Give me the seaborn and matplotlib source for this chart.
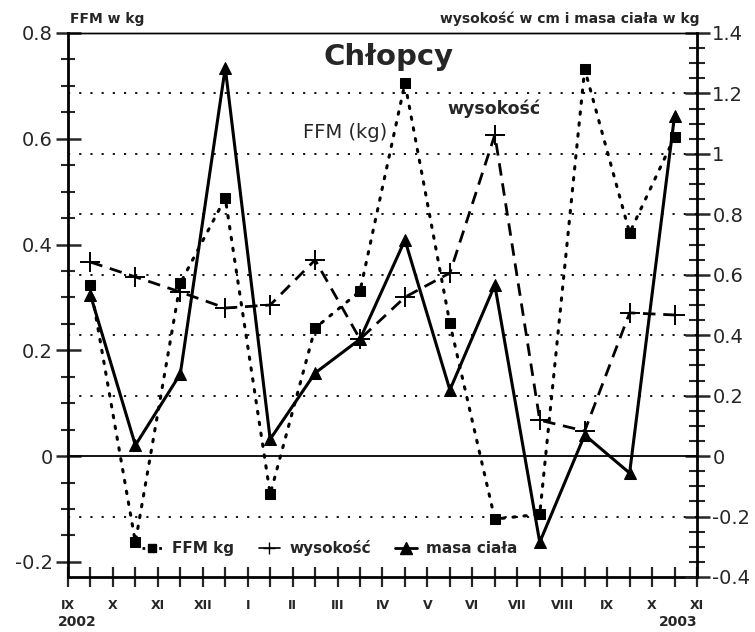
import numpy as np
import pandas as pd
import matplotlib
matplotlib.use("Agg")
import matplotlib.pyplot as plt
from matplotlib.lines import Line2D
from matplotlib.ticker import MultipleLocator, FixedLocator
import seaborn as sns

# ---------------- data ----------------
pomiar = [0.5, 1.5, 2.5, 3.5, 4.5, 5.5, 6.5, 7.5, 8.5, 9.5, 10.5, 11.5, 12.5, 13.5]
ffm_kg = [0.323, -0.163, 0.327, 0.488, -0.072, 0.242, 0.312, 0.705, 0.251,
          -0.119, -0.110, 0.732, 0.422, 0.603]
wysokosc_cm = [0.642, 0.593, 0.543, 0.490, 0.500, 0.649, 0.387, 0.526, 0.606,
               1.063, 0.119, 0.083, 0.474, 0.467]
masa_kg = [0.533, 0.036, 0.272, 1.285, 0.056, 0.275, 0.387, 0.715, 0.219,
           0.566, -0.285, 0.070, -0.056, 1.126]
miesiace = ["IX", "X", "XI", "XII", "I", "II", "III", "IV", "V", "VI", "VII",
            "VIII", "IX", "X", "XI"]
lewe_ticki = [-0.2, 0.0, 0.2, 0.4, 0.6, 0.8]
lewe_etykiety = ["-0.2", "0", "0.2", "0.4", "0.6", "0.8"]
prawe_ticki = [-0.4, -0.2, 0.0, 0.2, 0.4, 0.6, 0.8, 1.0, 1.2, 1.4]
prawe_etykiety = ["-0.4", "-0.2", "0", "0.2", "0.4", "0.6", "0.8", "1", "1.2", "1.4"]

df = pd.DataFrame({"pomiar": pomiar, "ffm": ffm_kg,
                   "wys": wysokosc_cm, "masa": masa_kg})

# ---------------- style ----------------
sns.set_style("ticks")
plt.rcParams["font.family"] = ["DejaVu Sans"]

W, H = 755, 632
fig = plt.figure(figsize=(W / 100, H / 100), dpi=100)
L, R, T, B = 68, 697, 33, 577
ax = fig.add_axes([L / W, 1 - B / H, (R - L) / W, (B - T) / H])
ax2 = ax.twinx()

ax.set_xlim(0, 14)
ax.set_ylim(-0.4 * 0.8 / 1.4, 0.8)
ax2.set_ylim(-0.4, 1.4)

# grid lines (dotted) at right-axis major ticks
for v in prawe_ticki[1:-1]:
    if v == 0:
        ax2.axhline(0, color="black", lw=1.3, zorder=1)
    else:
        ax2.axhline(v, color="black", lw=1.3, ls=(0, (1.2, 5)), zorder=1)

# ---------------- series ----------------
sns.lineplot(data=df, x="pomiar", y="ffm", ax=ax, color="black",
             linestyle=(0, (0.8, 2.8)), linewidth=2.2, dash_capstyle="round",
             marker="s", markersize=7.5, markeredgecolor="black", zorder=3)
sns.lineplot(data=df, x="pomiar", y="wys", ax=ax2, color="black",
             linestyle=(0, (4.5, 2.8)), linewidth=2.0,
             marker="+", markersize=15, markeredgewidth=1.4,
             markeredgecolor="black", zorder=3)
sns.lineplot(data=df, x="pomiar", y="masa", ax=ax2, color="black",
             linestyle="-", linewidth=2.2,
             marker="^", markersize=9, markeredgecolor="black", zorder=4)

ax.set_xlabel("")
ax.set_ylabel("")
ax2.set_ylabel("")

# ---------------- spines & ticks ----------------
for a in (ax, ax2):
    for s in a.spines.values():
        s.set_color("black")
ax.spines["left"].set_linewidth(2.0)
ax.spines["bottom"].set_linewidth(2.0)
ax2.spines["right"].set_linewidth(2.0)
ax.spines["top"].set_linewidth(1.0)
ax2.spines["top"].set_linewidth(1.0)
ax.spines["right"].set_visible(False)
ax2.spines["left"].set_visible(False)
ax2.spines["bottom"].set_visible(False)

ax.set_yticks(lewe_ticki)
ax.set_yticklabels(lewe_etykiety)
ax.yaxis.set_minor_locator(MultipleLocator(0.05))
ax.tick_params(axis="y", which="major", direction="inout", length=18, width=1.8,
               labelsize=14, pad=2)
ax.tick_params(axis="y", which="minor", direction="inout", length=10, width=1.5)

ax2.set_yticks(prawe_ticki)
ax2.set_yticklabels(prawe_etykiety)
ax2.yaxis.set_minor_locator(MultipleLocator(0.05))
ax2.tick_params(axis="y", which="major", direction="inout", length=18, width=1.8,
                labelsize=14, pad=2)
ax2.tick_params(axis="y", which="minor", direction="inout", length=12, width=1.5)

ax.set_xticks(range(len(miesiace)))
ax.set_xticklabels(miesiace)
ax.xaxis.set_minor_locator(FixedLocator([p for p in pomiar]))
ax.tick_params(axis="x", which="both", direction="inout", length=15, width=1.6)
ax.tick_params(axis="x", which="major", labelsize=9, pad=8)
for t in ax.get_xticklabels():
    t.set_fontweight("bold")

# ---------------- texts ----------------
def ftext(x, y, s, **kw):
    fig.text(x / W, 1 - y / H, s, **kw)

ftext(70, 19, "FFM w kg", fontsize=10, fontweight="bold", va="center", ha="left")
ftext(700, 19, "wysokość w cm i masa ciała w kg", fontsize=10, fontweight="bold",
      va="center", ha="right")
ftext(389, 57, "Chłopcy", fontsize=21, fontweight="bold", va="center", ha="center")
ftext(345, 132, "FFM (kg)", fontsize=14, va="center", ha="center")
ftext(494, 109, "wysokość", fontsize=12.5, fontweight="bold", va="center", ha="center")
ftext(58, 622, "2002", fontsize=10, fontweight="bold", va="center", ha="left")
ftext(698, 622, "2003", fontsize=10, fontweight="bold", va="center", ha="right")

# ---------------- legend ----------------
handles = [
    Line2D([], [], color="black", linestyle=(0, (1, 2)), linewidth=2,
           marker="s", markersize=6),
    Line2D([], [], color="black", linestyle="-", linewidth=1.2,
           marker="+", markersize=8),
    Line2D([], [], color="black", linestyle="-", linewidth=2,
           marker="^", markersize=8),
]
labels = ["FFM kg", "wysokość", "masa ciała"]
leg = ax2.legend(handles, labels, loc="center left",
                 bbox_to_anchor=(128 / W, 1 - 548 / H), bbox_transform=fig.transFigure,
                 ncol=3, frameon=False, handlelength=1.4, handletextpad=0.6,
                 columnspacing=1.6, prop={"weight": "bold", "size": 11})

fig.savefig("out.png", dpi=100)
